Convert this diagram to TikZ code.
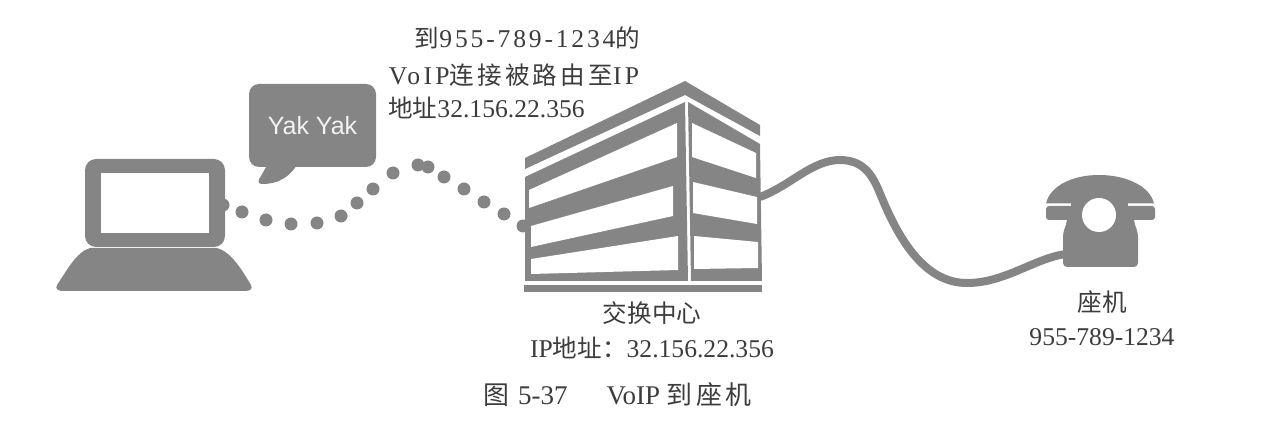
\documentclass[tikz,border=0pt]{standalone}
\usepackage{fontspec}
\setmainfont{Liberation Serif}
\newfontfamily\cjkfont{Noto Sans CJK SC}[Scale=0.96]
\newfontfamily\yakfont{Liberation Sans}
\newfontfamily\widefont{Liberation Serif}[LetterSpace=11]
\newfontfamily\widerfont{Liberation Serif}[LetterSpace=13]
\newfontfamily\cjkwidefont{Noto Sans CJK SC}[Scale=0.96,LetterSpace=13]
\newfontfamily\cjkcapfont{Noto Sans CJK SC}[Scale=0.96,LetterSpace=14]
\usepackage{tikz}
\usetikzlibrary{positioning}
\definecolor{icongray}{HTML}{858585}
\definecolor{inkgray}{HTML}{3C3C3C}
\tikzset{icon/.style={fill=icongray,draw=none},
    hole/.style={fill=white,draw=none},
    smalldot/.style={circle,fill=icongray,inner sep=0,minimum size=13pt},
    labeltext/.style={text=inkgray,inner sep=0,font=\fontsize{25.6}{30}\selectfont},
    captiontext/.style={text=inkgray,inner sep=0,font=\fontsize{27}{32}\selectfont}
}
\newcommand{\zh}[1]{{\cjkfont #1}}
\newcommand{\zhw}[1]{{\cjkwidefont #1}}

\begin{document}
\begin{tikzpicture}[x=1pt,y=-1pt]

\useasboundingbox (0,0) rectangle (1286,446);

% cable from the exchange to the desk phone

\coordinate (officePort) at (760,197);
\coordinate (phoneJack) at (1066,254);

\draw [icongray,line width=8pt] (officePort) .. controls (790,186) and (812,160) .. (840,160)
    .. controls (870,160) and (876,185) .. (884,203)
    .. controls (900,240) and (925,283) .. (967,283)
    .. controls (1005,283) and (1035,258) .. (phoneJack);

% laptop

\fill [icon] (90,248) -- (217,248) .. controls (232,252) and (243,272) .. (251,285)
    .. controls (253,289) and (250,291) .. (245,291) -- (63,291)
    .. controls (58,291) and (55,289) .. (57,285) .. controls (66,272) and (76,252) .. (90,248) -- cycle;
\node (laptop) at (155,203) [icon,rounded corners=11pt,minimum width=140pt,minimum height=88pt,inner sep=0] {};
\node (screen) at (155,203) [hole,minimum width=108pt,minimum height=60pt,inner sep=0] {};

% speech bubble

\fill [icon] (270,160) -- (261,176) .. controls (257,181) and (258,184) .. (262,184)
    .. controls (278,184) and (290,178) .. (300,160) -- cycle;
\node (bubble) at (312.5,125.5) [icon,rounded corners=10pt,minimum width=127pt,minimum height=83pt,inner sep=0,
    text=white!95!black,font={\yakfont\fontsize{25}{30}\selectfont}] {Yak Yak};

% dotted voice path

\foreach \x/\y [count=\i] in {223/205,242/212,266/220,291/224,317/223,341/216,357/203,373/189,393/173,418/165,428/167,444/177,464/189,484/202,504/214,523/226}
    \node (dot\i) at (\x,\y) [smalldot] {};

% exchange building

\fill [icon] (525,158) -- (685,81) -- (760,125) -- (760,136) -- (685,95) -- (525,169) -- cycle;
\fill [icon] (525,177) -- (685,102) -- (688,281) -- (525,281) -- cycle;
\fill [icon] (688,102) -- (760,144) -- (762,281) -- (691,281) -- cycle;
\fill [hole] (529,190) -- (677,123) -- (677,157) -- (529,208) -- cycle;
\fill [hole] (531,226) -- (673,186) -- (673,216) -- (531,247) -- cycle;
\fill [hole] (531,259) -- (678,236) -- (678,270) -- (531,274) -- cycle;
\fill [hole] (692,123) -- (756,153) -- (756,178) -- (692,157) -- cycle;
\fill [hole] (693,182) -- (757,197) -- (757,224) -- (693,213) -- cycle;
\fill [hole] (694,236) -- (758,242) -- (758,268) -- (694,269) -- cycle;
\fill [icon] (524,285) rectangle (762,292);

% desk phone

\fill [icon] (1046,203.5) .. controls (1050,186) and (1072,175) .. (1099,175)
    .. controls (1126,175) and (1150,186) .. (1154,203.5) -- cycle;
\fill [icon,rounded corners=3pt] (1046,206) rectangle (1155,220);
\fill [icon,rounded corners=4pt] (1067,215) -- (1134,215) -- (1134,222) -- (1138,233) -- (1138,267) -- (1063,267) -- (1063,233) -- (1067,222) -- cycle;
\fill [icon] (1071,203) rectangle (1128,208);
\node (dial) at (1099,215) [circle,hole,minimum size=34pt,inner sep=0] {};

% labels

\node (routeA) at (527.5,38) [labeltext] {\zhw{到}{\widefont 955-789-1234}\zhw{的}};
\node (routeB) at (514,75) [labeltext] {{\widerfont VoIP}\zhw{连接被路由至}{\widerfont IP}};
\node (routeC) at (486.5,108) [labeltext] {\zh{地址}32.156.22.356};
\node (officeName) at (652,313) [labeltext] {\zh{交换中心}};
\node (officeAddr) at (652,348) [labeltext] {IP\zh{地址：}32.156.22.356};
\node (phoneName) at (1102,302) [labeltext] {\zh{座机}};
\node (phoneNumber) at (1102,337) [labeltext] {955-789-1234};
\node (caption) at (617.5,395) [captiontext] {\zh{图}\hspace{9pt}5-37\hspace{39pt}VoIP {\cjkcapfont 到座机}};

\end{tikzpicture}
\end{document}
